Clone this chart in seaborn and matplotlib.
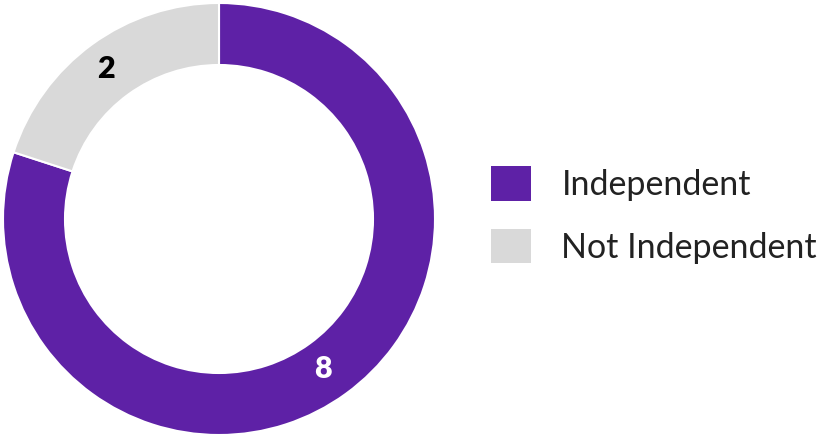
import matplotlib
matplotlib.use("Agg")
import matplotlib.pyplot as plt
import matplotlib.patches as mpatches
import numpy as np
import seaborn as sns

# data
categories = ["Independent", "Not Independent"]
values = [8, 2]
colors = ["#5E21A6", "#D9D9D9"]
label_colors = ["white", "black"]

sns.set_theme(style="white")
plt.rcParams["font.family"] = ["Lato", "DejaVu Sans"]

W, H = 823, 438
fig = plt.figure(figsize=(W / 100, H / 100), dpi=100)

# donut axes: centre (219, 219), outer radius 216 px
cx, cy, r = 219, 219, 216
ax = fig.add_axes([(cx - r) / W, (H - cy - r) / H, 2 * r / W, 2 * r / H])

ring = 62 / 216
wedges, _ = ax.pie(values, colors=colors, startangle=90, counterclock=False,
                   radius=1, wedgeprops=dict(width=ring, edgecolor="white", linewidth=1.5))

for w, v, c in zip(wedges, values, label_colors):
    mid = np.deg2rad((w.theta1 + w.theta2) / 2)
    rr = 1 - ring / 2
    ax.text(rr * np.cos(mid) - 0.02, rr * np.sin(mid), str(v), ha="center", va="center",
            fontsize=22, fontweight="heavy", color=c)

ax.set_xlim(-1, 1)
ax.set_ylim(-1, 1)
ax.set_aspect("equal")
ax.axis("off")

handles = [mpatches.Patch(facecolor=c, edgecolor="none") for c in colors]
fig.legend(handles, categories, loc="center left",
           bbox_to_anchor=(491 / W, 1 - 215 / H), frameon=False,
           fontsize=24.5, handlelength=1.17, handleheight=1.17,
           handletextpad=0.9, labelspacing=0.82, borderaxespad=0, borderpad=0,
           labelcolor="#222222")

fig.savefig("out.png", dpi=100, facecolor="white")
